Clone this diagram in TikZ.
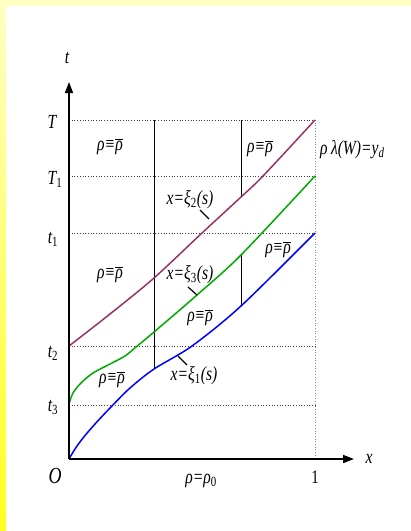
\documentclass[tikz,border=0pt]{standalone}
\usepackage{fontspec}
\setmainfont{Liberation Serif}[FakeStretch=0.78]
\usetikzlibrary{arrows.meta}
\definecolor{plum}{HTML}{993366}
\definecolor{grn}{HTML}{00AA00}
\definecolor{blu}{HTML}{0000FF}
\definecolor{paleyel}{HTML}{FFFFC4}
\definecolor{deepyel}{HTML}{FFFF22}
\newcommand\myrr{ρ≡$\overline{\mbox{ρ}}$}
\newcommand\mysub[1]{\textsubscript{\upshape #1}}
\begin{document}
\begin{tikzpicture}[x=1pt,y=-1pt,
  lbl/.style={font=\fontsize{20}{22}\selectfont\itshape, inner sep=0pt, anchor=base},
  axisline/.style={line width=1.6pt, -{Triangle[length=11pt,width=8pt]}},
  gridline/.style={dotted, line width=0.7pt, black!75},
  edgeline/.style={dotted, line width=0.7pt, black!45},
  wall/.style={line width=0.7pt},
  curve/.style={line width=1.5pt, line join=round},
  lead/.style={line width=1.2pt}]
\useasboundingbox (0,0) rectangle (411,531);
% background strips
\fill[paleyel] (0,0) rectangle (411,6);
\shade[top color=paleyel, bottom color=deepyel] (0,0) rectangle (6,531);
% coordinates
\coordinate (O0) at (69,459);
\coordinate (ttip) at (69,82);
\coordinate (xtip) at (354,459);
\coordinate (aT) at (69,120);   \coordinate (bT) at (315,120);
\coordinate (aT1) at (69,176);  \coordinate (bT1) at (315,176);
\coordinate (at1) at (69,233);  \coordinate (bt1) at (315,233);
\coordinate (at2) at (69,346);  \coordinate (bt2) at (315,346);
\coordinate (at3) at (69,405);  \coordinate (bt3) at (315,405);
\coordinate (b0) at (315,459);
\coordinate (v1t) at (154,120); \coordinate (v1b) at (154,369);
\coordinate (v2t) at (241,120); \coordinate (v2m) at (241,197);
\coordinate (v2n) at (241,255); \coordinate (v2b) at (241,306);
% dotted grid
\draw[gridline] (aT) -- (bT);
\draw[gridline] (aT1) -- (bT1);
\draw[gridline] (at1) -- (bt1);
\draw[gridline] (at2) -- (bt2);
\draw[gridline] (at3) -- (bt3);
\draw[edgeline] (bT) -- (b0);
% vertical walls
\draw[wall] (v1t) -- (v1b);
\draw[wall] (v2t) -- (v2m);
\draw[wall] (v2n) -- (v2b);
% curves
\draw[curve, plum] plot[smooth, tension=0.5] coordinates {(69,346) (110,314) (154,278) (202,233) (241,197) (263,176) (315,120)};
\draw[curve, grn] plot[smooth, tension=0.5] coordinates {(69,404) (73,393) (81,383) (93,373) (110,364) (125,356) (136,347) (154,332) (197,295) (241,255) (315,176)};
\draw[curve, blu] plot[smooth, tension=0.5] coordinates {(69,459) (75,449) (83,438) (95,424) (110,408) (130,388) (154,369) (192,346) (241,306) (315,233)};
% axes
\draw[axisline] (O0) -- (ttip);
\draw[axisline] (O0) -- (xtip);
% axis labels
\node[lbl] (tlab) at (67,63) {t};
\node[lbl] (xlab) at (369,463) {x};
\node[lbl, font=\fontsize{23}{25}\selectfont\itshape] (Olab) at (55,483) {O};
\node[lbl, font=\fontsize{19}{21}\selectfont] (onelab) at (315,483) {1};
\node[lbl] (Tlab) at (52,128) {T};
\node[lbl] (T1lab) at (55,184) {T\mysub{1}};
\node[lbl] (t1lab) at (53,243) {t\mysub{1}};
\node[lbl] (t2lab) at (53,357) {t\mysub{2}};
\node[lbl] (t3lab) at (53,411) {t\mysub{3}};
% region labels
\node[lbl] (r0) at (201,483) {ρ=ρ\mysub{0}};
\node[lbl] (r1) at (110,150) {\myrr};
\node[lbl] (r2) at (260,152) {\myrr};
\node[lbl] (r3) at (110,278) {\myrr};
\node[lbl] (r4) at (278,253) {\myrr};
\node[lbl] (r5) at (200,321) {\myrr};
\node[lbl] (r6) at (112,383) {\myrr};
\node[lbl, anchor=base west] (bc) at (320,154) {ρ\,λ(W)=y\textsubscript{d}};
% curve labels with leaders
\node[lbl] (xi2) at (190,204) {x=ξ\mysub{2}(s)};
\node[lbl] (xi3) at (190,279) {x=ξ\mysub{3}(s)};
\node[lbl] (xi1) at (194,380) {x=ξ\mysub{1}(s)};
\coordinate (l2a) at (200,210); \coordinate (l2b) at (209,219);
\coordinate (l3a) at (188,287); \coordinate (l3b) at (197,295);
\coordinate (l1a) at (178,356); \coordinate (l1b) at (187,365);
\draw[lead] (l2a) -- (l2b);
\draw[lead] (l3a) -- (l3b);
\draw[lead] (l1a) -- (l1b);
\end{tikzpicture}
\end{document}
